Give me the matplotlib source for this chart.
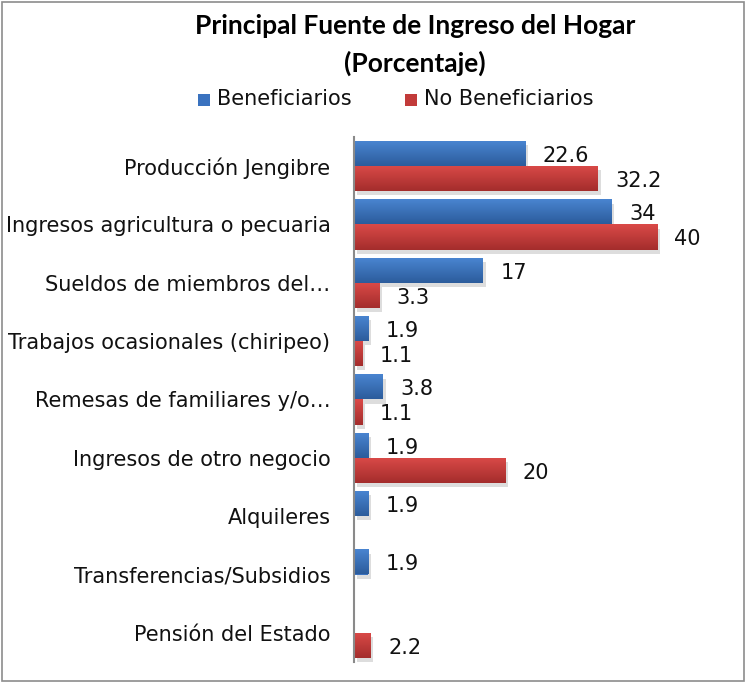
import numpy as np
import matplotlib
matplotlib.use("Agg")
import matplotlib.pyplot as plt
from matplotlib.colors import LinearSegmentedColormap
from matplotlib.patches import Rectangle
import matplotlib.patheffects as pe

categories = ["Producción Jengibre", "Ingresos agricultura o pecuaria",
              "Sueldos de miembros del…", "Trabajos ocasionales (chiripeo)",
              "Remesas de familiares y/o…", "Ingresos de otro negocio",
              "Alquileres", "Transferencias/Subsidios", "Pensión del Estado"]
beneficiarios = [22.6, 34, 17, 1.9, 3.8, 1.9, 1.9, 1.9, np.nan]
no_beneficiarios = [32.2, 40, 3.3, 1.1, 1.1, 20, np.nan, np.nan, 2.2]
series_names = ["Beneficiarios", "No Beneficiarios"]

W, H = 746, 683
fig = plt.figure(figsize=(W / 100, H / 100), dpi=100)
fig.patch.set_facecolor("white")
fig.add_artist(Rectangle((0.003, 0.003), 0.994, 0.994, transform=fig.transFigure,
                         fill=False, edgecolor="#8c8c8c", lw=1.2))

ax = fig.add_axes([354 / W, 1 - 662 / H, 0.962 - 354 / W, (662 - 137) / H])
ax.set_facecolor("none")

n = len(categories)
y = np.arange(n)
h = 0.43
blue_cm = LinearSegmentedColormap.from_list("b", ["#4a86d2", "#2c5c9c"])
red_cm = LinearSegmentedColormap.from_list("r", ["#da4a48", "#a42d2c"])
grad = np.linspace(0, 1, 64).reshape(-1, 1)
FS = 15

def draw(vals, offset, cm, base):
    v = np.nan_to_num(np.array(vals, dtype=float))
    bars = ax.barh(y + offset, v, height=h, color=base, edgecolor="none",
                   path_effects=[pe.SimplePatchShadow(offset=(2, -3), shadow_rgbFace="#aaaaaa", alpha=0.4), pe.Normal()])
    for bar, val in zip(bars, vals):
        if np.isnan(val):
            bar.set_visible(False)
            continue
        x0, y0, w, hh = bar.get_x(), bar.get_y(), bar.get_width(), bar.get_height()
        im = ax.imshow(grad, extent=[x0, x0 + w, y0 + hh, y0], cmap=cm,
                       aspect="auto", zorder=bar.get_zorder() + 0.1, origin="upper")
        im.set_clip_path(bar)
        lab = f"{val:g}"
        ax.text(x0 + w + 2.3, y0 + hh / 2 + 0.04, lab, va="center", ha="left",
                fontsize=FS, color="#111111")

draw(beneficiarios, -h / 2, blue_cm, "#3a72bf")
draw(no_beneficiarios, h / 2, red_cm, "#c23b3a")

ax.set_xlim(0, 48)
ax.set_ylim(n - 0.5, -0.5)
ax.set_yticks(y)
ax.set_yticklabels(categories, fontsize=FS, color="#111111")
ax.tick_params(axis="y", length=0, pad=17)
ax.set_xticks([])
for s in ["top", "right", "bottom"]:
    ax.spines[s].set_visible(False)
ax.spines["left"].set_color("#8a8a8a")
ax.spines["left"].set_linewidth(1.5)

fig.text(415 / W, 1 - 26 / H, "Principal Fuente de Ingreso del Hogar", ha="center", va="center",
         fontsize=19, fontweight="bold", family="Lato")
fig.text(415 / W, 1 - 63 / H, "(Porcentaje)", ha="center", va="center",
         fontsize=19, fontweight="bold", family="Lato")

# legend
for xs, name, c1 in [(198, series_names[0], "#3a72bf"), (405, series_names[1], "#c23b3a")]:
    fig.add_artist(Rectangle((xs / W, 1 - 106 / H), 12 / W, 12 / H, transform=fig.transFigure,
                             facecolor=c1, edgecolor="none"))
    fig.text((xs + 19) / W, 1 - 99 / H, name, ha="left", va="center", fontsize=FS, color="#111111")

fig.savefig("out.png", dpi=100)
